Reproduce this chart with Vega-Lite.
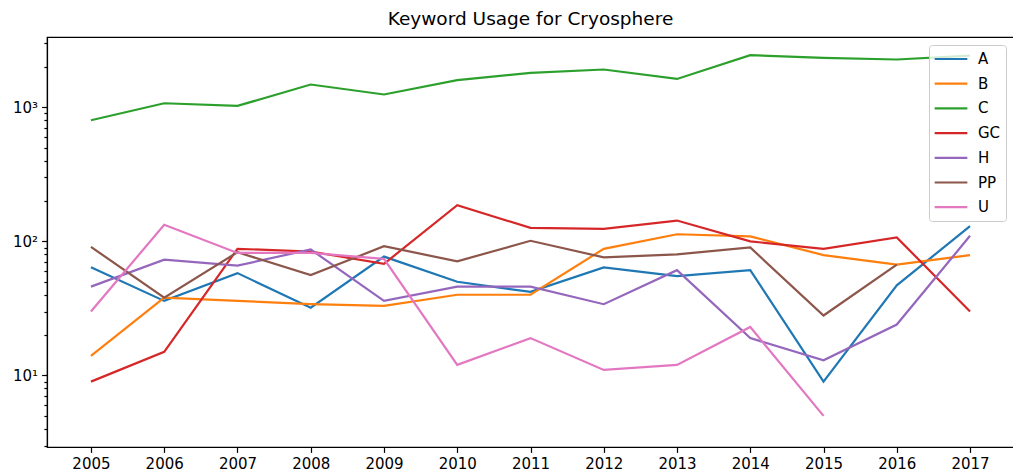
{
  "$schema": "https://vega.github.io/schema/vega-lite/v6.json",
  "autosize": "none",
  "width": 967,
  "height": 410,
  "padding": {"left": 47, "top": 37, "right": 0, "bottom": 28},
  "background": "white",
  "title": {
    "text": "Keyword Usage for Cryosphere",
    "font": "DejaVu Sans",
    "fontSize": 18.5,
    "fontWeight": "normal",
    "color": "black",
    "anchor": "middle",
    "offset": 8
  },
  "config": {
    "view": {"stroke": "black", "strokeWidth": 1.2},
    "font": "DejaVu Sans"
  },
  "datasets": {
    "usage": [
      {"year": 2005, "keyword": "A", "count": 64},
      {"year": 2006, "keyword": "A", "count": 36},
      {"year": 2007, "keyword": "A", "count": 58},
      {"year": 2008, "keyword": "A", "count": 32},
      {"year": 2009, "keyword": "A", "count": 77},
      {"year": 2010, "keyword": "A", "count": 50},
      {"year": 2011, "keyword": "A", "count": 42},
      {"year": 2012, "keyword": "A", "count": 64},
      {"year": 2013, "keyword": "A", "count": 55},
      {"year": 2014, "keyword": "A", "count": 61},
      {"year": 2015, "keyword": "A", "count": 9},
      {"year": 2016, "keyword": "A", "count": 47},
      {"year": 2017, "keyword": "A", "count": 130},

      {"year": 2005, "keyword": "B", "count": 14},
      {"year": 2006, "keyword": "B", "count": 38},
      {"year": 2007, "keyword": "B", "count": 36},
      {"year": 2008, "keyword": "B", "count": 34},
      {"year": 2009, "keyword": "B", "count": 33},
      {"year": 2010, "keyword": "B", "count": 40},
      {"year": 2011, "keyword": "B", "count": 40},
      {"year": 2012, "keyword": "B", "count": 88},
      {"year": 2013, "keyword": "B", "count": 113},
      {"year": 2014, "keyword": "B", "count": 109},
      {"year": 2015, "keyword": "B", "count": 79},
      {"year": 2016, "keyword": "B", "count": 67},
      {"year": 2017, "keyword": "B", "count": 79},

      {"year": 2005, "keyword": "C", "count": 800},
      {"year": 2006, "keyword": "C", "count": 1071},
      {"year": 2007, "keyword": "C", "count": 1023},
      {"year": 2008, "keyword": "C", "count": 1477},
      {"year": 2009, "keyword": "C", "count": 1245},
      {"year": 2010, "keyword": "C", "count": 1591},
      {"year": 2011, "keyword": "C", "count": 1803},
      {"year": 2012, "keyword": "C", "count": 1911},
      {"year": 2013, "keyword": "C", "count": 1626},
      {"year": 2014, "keyword": "C", "count": 2443},
      {"year": 2015, "keyword": "C", "count": 2333},
      {"year": 2016, "keyword": "C", "count": 2269},
      {"year": 2017, "keyword": "C", "count": 2430},

      {"year": 2005, "keyword": "GC", "count": 9},
      {"year": 2006, "keyword": "GC", "count": 15},
      {"year": 2007, "keyword": "GC", "count": 88},
      {"year": 2008, "keyword": "GC", "count": 84},
      {"year": 2009, "keyword": "GC", "count": 68},
      {"year": 2010, "keyword": "GC", "count": 186},
      {"year": 2011, "keyword": "GC", "count": 126},
      {"year": 2012, "keyword": "GC", "count": 124},
      {"year": 2013, "keyword": "GC", "count": 143},
      {"year": 2014, "keyword": "GC", "count": 100},
      {"year": 2015, "keyword": "GC", "count": 88},
      {"year": 2016, "keyword": "GC", "count": 107},
      {"year": 2017, "keyword": "GC", "count": 30},

      {"year": 2005, "keyword": "H", "count": 46},
      {"year": 2006, "keyword": "H", "count": 73},
      {"year": 2007, "keyword": "H", "count": 66},
      {"year": 2008, "keyword": "H", "count": 87},
      {"year": 2009, "keyword": "H", "count": 36},
      {"year": 2010, "keyword": "H", "count": 46},
      {"year": 2011, "keyword": "H", "count": 46},
      {"year": 2012, "keyword": "H", "count": 34},
      {"year": 2013, "keyword": "H", "count": 61},
      {"year": 2014, "keyword": "H", "count": 19},
      {"year": 2015, "keyword": "H", "count": 13},
      {"year": 2016, "keyword": "H", "count": 24},
      {"year": 2017, "keyword": "H", "count": 110},

      {"year": 2005, "keyword": "PP", "count": 91},
      {"year": 2006, "keyword": "PP", "count": 38},
      {"year": 2007, "keyword": "PP", "count": 83},
      {"year": 2008, "keyword": "PP", "count": 56},
      {"year": 2009, "keyword": "PP", "count": 92},
      {"year": 2010, "keyword": "PP", "count": 71},
      {"year": 2011, "keyword": "PP", "count": 101},
      {"year": 2012, "keyword": "PP", "count": 76},
      {"year": 2013, "keyword": "PP", "count": 80},
      {"year": 2014, "keyword": "PP", "count": 90},
      {"year": 2015, "keyword": "PP", "count": 28},
      {"year": 2016, "keyword": "PP", "count": 67},

      {"year": 2005, "keyword": "U", "count": 30},
      {"year": 2006, "keyword": "U", "count": 133},
      {"year": 2007, "keyword": "U", "count": 82},
      {"year": 2008, "keyword": "U", "count": 82},
      {"year": 2009, "keyword": "U", "count": 74},
      {"year": 2010, "keyword": "U", "count": 12},
      {"year": 2011, "keyword": "U", "count": 19},
      {"year": 2012, "keyword": "U", "count": 11},
      {"year": 2013, "keyword": "U", "count": 12},
      {"year": 2014, "keyword": "U", "count": 23},
      {"year": 2015, "keyword": "U", "count": 5}
    ]
  },
  "data": {"name": "usage"},
  "mark": {"type": "line", "strokeWidth": 2.2, "clip": true},
  "encoding": {
    "x": {
      "field": "year",
      "type": "quantitative",
      "title": null,
      "scale": {"domain": [2004.4, 2017.6], "nice": false, "zero": false},
      "axis": {
        "values": [2005, 2006, 2007, 2008, 2009, 2010, 2011, 2012, 2013, 2014, 2015, 2016, 2017],
        "format": "d",
        "grid": false,
        "labelFont": "DejaVu Sans",
        "labelFontSize": 15,
        "labelColor": "black",
        "labelPadding": 4,
        "labelFlush": false,
        "labelOverlap": false,
        "tickSize": 5.4,
        "tickWidth": 1.2,
        "tickColor": "black",
        "domainColor": "black",
        "domainWidth": 1.2
      }
    },
    "y": {
      "field": "count",
      "type": "quantitative",
      "title": null,
      "scale": {"type": "log", "domain": [2.93, 3340], "nice": false},
      "axis": {
        "values": [3, 4, 5, 6, 7, 8, 9, 10, 20, 30, 40, 50, 60, 70, 80, 90, 100, 200, 300, 400, 500, 600, 700, 800, 900, 1000, 2000, 3000],
        "labelExpr": "datum.value == 10 ? '10¹' : datum.value == 100 ? '10²' : datum.value == 1000 ? '10³' : ''",
        "grid": false,
        "labelFont": "DejaVu Sans",
        "labelFontSize": 15,
        "labelColor": "black",
        "labelPadding": 4,
        "labelOverlap": false,
        "labelFlush": false,
        "tickSize": {"condition": {"test": "datum.value == 10 || datum.value == 100 || datum.value == 1000", "value": 5.4}, "value": 3.1},
        "tickWidth": 1.2,
        "tickColor": "black",
        "domainColor": "black",
        "domainWidth": 1.2
      }
    },
    "color": {
      "field": "keyword",
      "type": "nominal",
      "title": null,
      "scale": {
        "domain": ["A", "B", "C", "GC", "H", "PP", "U"],
        "range": ["#1f77b4", "#ff7f0e", "#2ca02c", "#d62728", "#9467bd", "#8c564b", "#e377c2"]
      },
      "legend": {
        "orient": "none",
        "legendX": 882,
        "legendY": 8,
        "padding": 5,
        "fillColor": "rgba(255,255,255,0.8)",
        "strokeColor": "#cccccc",
        "cornerRadius": 3,
        "symbolType": "M-2.11,0L2.11,0",
        "symbolSize": 240,
        "symbolStrokeWidth": 2.2,
        "symbolOffset": 8,
        "labelOffset": 18,
        "rowPadding": 7.7,
        "labelFont": "DejaVu Sans",
        "labelFontSize": 15,
        "labelColor": "black"
      }
    }
  }
}
